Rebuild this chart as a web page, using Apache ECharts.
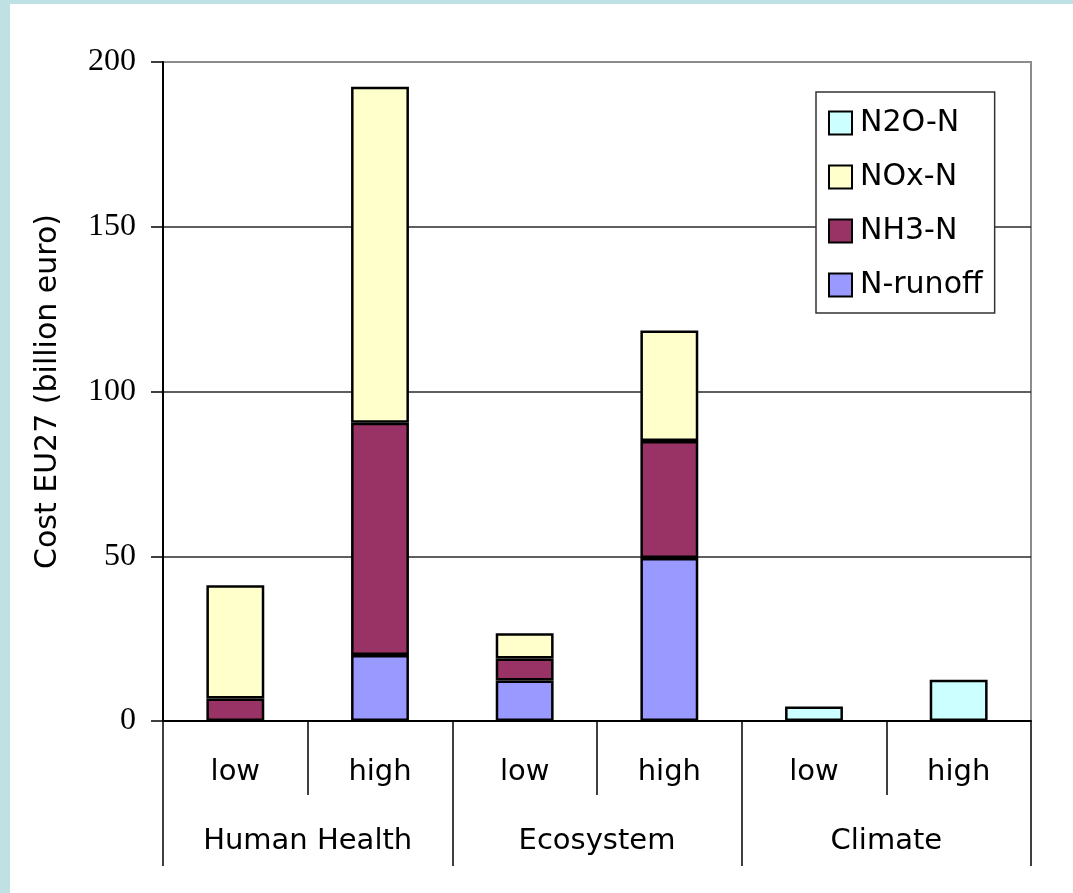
<!DOCTYPE html>
<html>
<head>
<meta charset="utf-8">
<script src="https://cdn.jsdelivr.net/npm/echarts@6/dist/echarts.min.js"></script>
<style>
html,body{margin:0;padding:0;background:#fff;}
#chart{width:1073px;height:893px;box-sizing:border-box;border-left:10px solid #bfe1e4;border-top:4px solid #bfe1e4;}
</style>
</head>
<body>
<div id="chart"></div>
<script>
// Data
var levels = ['low', 'high', 'low', 'high', 'low', 'high'];
var groups = ['Human Health', 'Ecosystem', 'Climate'];
var yTicks = [0, 50, 100, 150, 200];
var runoff = [null, 20, 12.3, 49.5, null, null];
var nh3 = [6.8, 70.5, 6.7, 35.5, null, null];
var nox = [34.4, 102, 7.6, 33.5, null, null];
var n2o = [null, null, null, null, 4.4, 12.5];
var legendOrder = ['N2O-N', 'NOx-N', 'NH3-N', 'N-runoff'];

var SANS = 'DejaVu Sans';
var SERIF = 'Liberation Serif';

var chart = echarts.init(document.getElementById('chart'), null, {renderer: 'canvas'});

function barSeries(name, data, color) {
  return {
    name: name,
    type: 'bar',
    stack: 'total',
    data: data,
    barWidth: '40%',
    itemStyle: {color: color, borderColor: '#000', borderWidth: 2.5},
    emphasis: {disabled: true}
  };
}

var option = {
  animation: false,
  backgroundColor: '#fff',
  grid: {
    left: 153, right: 42, top: 58, bottom: 172,
    show: true, borderColor: '#8c8c8c', borderWidth: 2, backgroundColor: 'transparent'
  },
  legend: {
    data: legendOrder,
    orient: 'vertical',
    left: 806, top: 88,
    padding: [16, 12, 13, 12],
    itemWidth: 23, itemHeight: 23, itemGap: 24,
    icon: 'rect',
    backgroundColor: '#fff',
    borderColor: '#333', borderWidth: 1.5,
    itemStyle: {borderWidth: 2},
    textStyle: {fontFamily: SANS, fontSize: 30, color: '#000', padding: [0, 0, 0, 3]}
  },
  xAxis: [
    {
      type: 'category', data: levels, position: 'bottom', offset: 0,
      axisLine: {show: true, lineStyle: {color: '#000', width: 2}},
      axisTick: {show: true, interval: 0, length: 74, lineStyle: {color: '#000', width: 1.5}},
      axisLabel: {interval: 0, margin: 37, fontFamily: SANS, fontSize: 29, color: '#000'},
      splitLine: {show: false}
    },
    {
      type: 'category', data: groups, position: 'bottom', offset: 0,
      axisLine: {show: false},
      axisTick: {show: true, interval: 0, length: 145, lineStyle: {color: '#000', width: 1.5}},
      axisLabel: {interval: 0, margin: 106, fontFamily: SANS, fontSize: 29, color: '#000'},
      splitLine: {show: false}
    }
  ],
  yAxis: {
    type: 'value', min: yTicks[0], max: yTicks[yTicks.length - 1], interval: 50,
    name: 'Cost EU27 (billion euro)', nameLocation: 'middle', nameGap: 100,
    nameTextStyle: {fontFamily: SANS, fontSize: 30, color: '#000'},
    axisLine: {show: true, lineStyle: {color: '#000', width: 2}},
    axisTick: {show: true, length: 12, lineStyle: {color: '#000', width: 1.5}},
    axisLabel: {margin: 27, fontFamily: SERIF, fontSize: 32, color: '#000'},
    splitLine: {show: true, lineStyle: {color: ['#000', '#2a2a2a', '#2a2a2a', '#2a2a2a', '#8c8c8c'], width: 1.5}}
  },
  series: [
    barSeries('N-runoff', runoff, '#9999ff'),
    barSeries('NH3-N', nh3, '#993366'),
    barSeries('NOx-N', nox, '#ffffcc'),
    barSeries('N2O-N', n2o, '#ccffff')
  ]
};
chart.setOption(option);
</script>
</body>
</html>
